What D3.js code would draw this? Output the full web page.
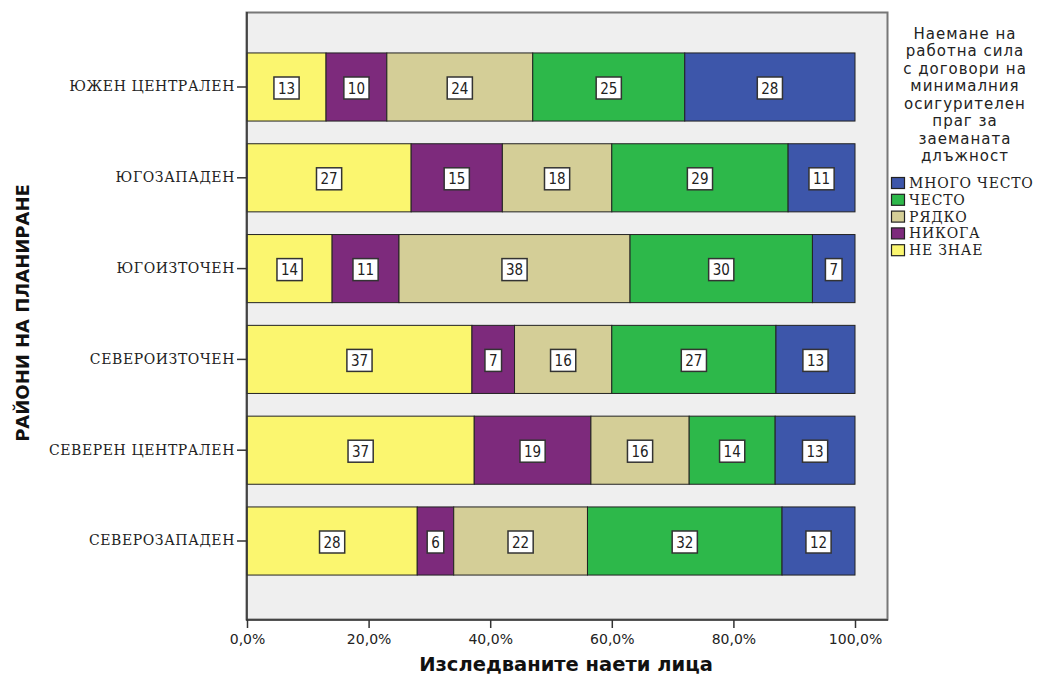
<!DOCTYPE html>
<html><head><meta charset="utf-8">
<script src="https://cdn.jsdelivr.net/npm/d3@7"></script>
<style>body{margin:0;background:#fff}svg{display:block}</style>
</head><body>
<svg id="chart" width="1038" height="678"></svg>
<script>
const categories = ["ЮЖЕН ЦЕНТРАЛЕН","ЮГОЗАПАДЕН","ЮГОИЗТОЧЕН","СЕВЕРОИЗТОЧЕН","СЕВЕРЕН ЦЕНТРАЛЕН","СЕВЕРОЗАПАДЕН"];
const seriesNames = ["НЕ ЗНАЕ","НИКОГА","РЯДКО","ЧЕСТО","МНОГО ЧЕСТО"];
const neZnae      = [13,27,14,37,37,28];
const nikoga      = [10,15,11, 7,19, 6];
const ryadko      = [24,18,38,16,16,22];
const chesto      = [25,29,30,27,14,32];
const mnogoChesto = [28,11, 7,13,13,12];
const seriesColors = ["#fbf66f","#7d2a7c","#d4ce97","#2db84a","#3d56aa"];
const legendOrder = ["МНОГО ЧЕСТО","ЧЕСТО","РЯДКО","НИКОГА","НЕ ЗНАЕ"];
const xTickValues = [0,20,40,60,80,100];
const xTickLabels = ["0,0%","20,0%","40,0%","60,0%","80,0%","100,0%"];
const legendTitle = ["Наемане на","работна сила","с договори на","минималния","осигурителен","праг за","заеманата","длъжност"];
const xTitle = "Изследваните наети лица";
const yTitle = "РАЙОНИ НА ПЛАНИРАНЕ";

const seriesValues = [neZnae, nikoga, ryadko, chesto, mnogoChesto];
const rows = categories.map((c,i)=>{
  const r = {cat:c};
  let tot = 0;
  seriesNames.forEach((s,k)=>{ r[s]=seriesValues[k][i]; tot+=seriesValues[k][i]; });
  r.total = tot;
  return r;
});

const svg = d3.select("#chart");
const x = d3.scaleLinear().domain([0,100]).range([247,855]);
const y = d3.scaleBand().domain(categories).range([41.6,586.4]).paddingInner(0.25).paddingOuter(0.125);
const color = d3.scaleOrdinal().domain(seriesNames).range(seriesColors);

// plot frame
svg.append("rect").attr("x",246.5).attr("y",12.5).attr("width",641).attr("height",607)
  .attr("fill","#efefef").attr("stroke","#777").attr("stroke-width",2);

// stacked bars
const stack = d3.stack().keys(seriesNames).value((d,k)=>d[k]/d.total*100);
const layers = stack(rows);
const g = svg.append("g");
layers.forEach(layer=>{
  const key = layer.key;
  layer.forEach(seg=>{
    const d = seg.data;
    const x0 = x(seg[0]), x1 = x(seg[1]);
    const yy = y(d.cat), h = y.bandwidth();
    g.append("rect").attr("x",x0).attr("y",yy).attr("width",x1-x0).attr("height",h)
      .attr("fill",color(key)).attr("stroke","#222").attr("stroke-width",1);
  });
});
// labels
layers.forEach(layer=>{
  const key = layer.key;
  layer.forEach(seg=>{
    const d = seg.data;
    const cx = (x(seg[0])+x(seg[1]))/2;
    const cy = y(d.cat)+y.bandwidth()/2+1;
    const lg = g.append("g");
    const t = lg.append("text").attr("x",cx).attr("y",cy+5.5).attr("text-anchor","middle")
      .attr("font-family","DejaVu Sans Condensed, DejaVu Sans").attr("font-size",15).attr("fill","#222")
      .text(d[key]);
    const w = t.node().getComputedTextLength();
    lg.insert("rect","text").attr("x",cx-w/2-4).attr("y",cy-11).attr("width",w+8).attr("height",22)
      .attr("fill","#fff").attr("stroke","#333").attr("stroke-width",1.5);
  });
});

// axes
const xAxis = svg.append("g").attr("transform","translate(0,620)")
  .call(d3.axisBottom(x).tickValues(xTickValues).tickSize(8).tickSizeOuter(0).tickFormat((d,i)=>xTickLabels[i]));
xAxis.select(".domain").remove();
xAxis.selectAll(".tick line").attr("stroke","#333").attr("stroke-width",1.5);
xAxis.selectAll("text").attr("font-family","DejaVu Sans").attr("font-size",14).attr("fill","#222").attr("dy","0.9em");

const yAxis = svg.append("g").attr("transform","translate(247,0)")
  .call(d3.axisLeft(y).tickSize(10).tickSizeOuter(0).tickPadding(2));
yAxis.select(".domain").remove();
yAxis.selectAll(".tick line").attr("stroke","#333").attr("stroke-width",1.5);
yAxis.selectAll("text").attr("font-family","DejaVu Serif").attr("font-size",14).attr("fill","#222")
  .attr("letter-spacing","0.6px");

svg.append("line").attr("x1",247).attr("x2",247).attr("y1",12).attr("y2",620).attr("stroke","#333").attr("stroke-width",1.5);
svg.append("line").attr("x1",246).attr("x2",888).attr("y1",620).attr("y2",620).attr("stroke","#333").attr("stroke-width",1.5);

// titles
svg.append("text").attr("x",566).attr("y",671).attr("text-anchor","middle")
  .attr("font-family","DejaVu Sans").attr("font-weight","bold").attr("font-size",19.5).attr("fill","#111")
  .text(xTitle);
svg.append("text").attr("transform","translate(29,313) rotate(-90)").attr("text-anchor","middle")
  .attr("font-family","DejaVu Sans").attr("font-weight","bold").attr("font-size",18).attr("fill","#111")
  .text(yTitle);

// legend
const lg = svg.append("g");
legendTitle.forEach((s,i)=>{
  lg.append("text").attr("x",965).attr("y",38.5+i*17.5).attr("text-anchor","middle")
    .attr("font-family","DejaVu Sans").attr("font-size",15).attr("letter-spacing","1px")
    .attr("fill","#222").text(s);
});
legendOrder.forEach((s,i)=>{
  const cy = 183+i*16.8;
  lg.append("rect").attr("x",891.5).attr("y",cy-5.5).attr("width",13).attr("height",11)
    .attr("fill",color(s)).attr("stroke","#222").attr("stroke-width",1.2);
  lg.append("text").attr("x",909).attr("y",cy+5).attr("font-family","DejaVu Serif")
    .attr("font-size",14).attr("letter-spacing","0.8px").attr("fill","#222").text(s);
});
</script>
</body></html>
